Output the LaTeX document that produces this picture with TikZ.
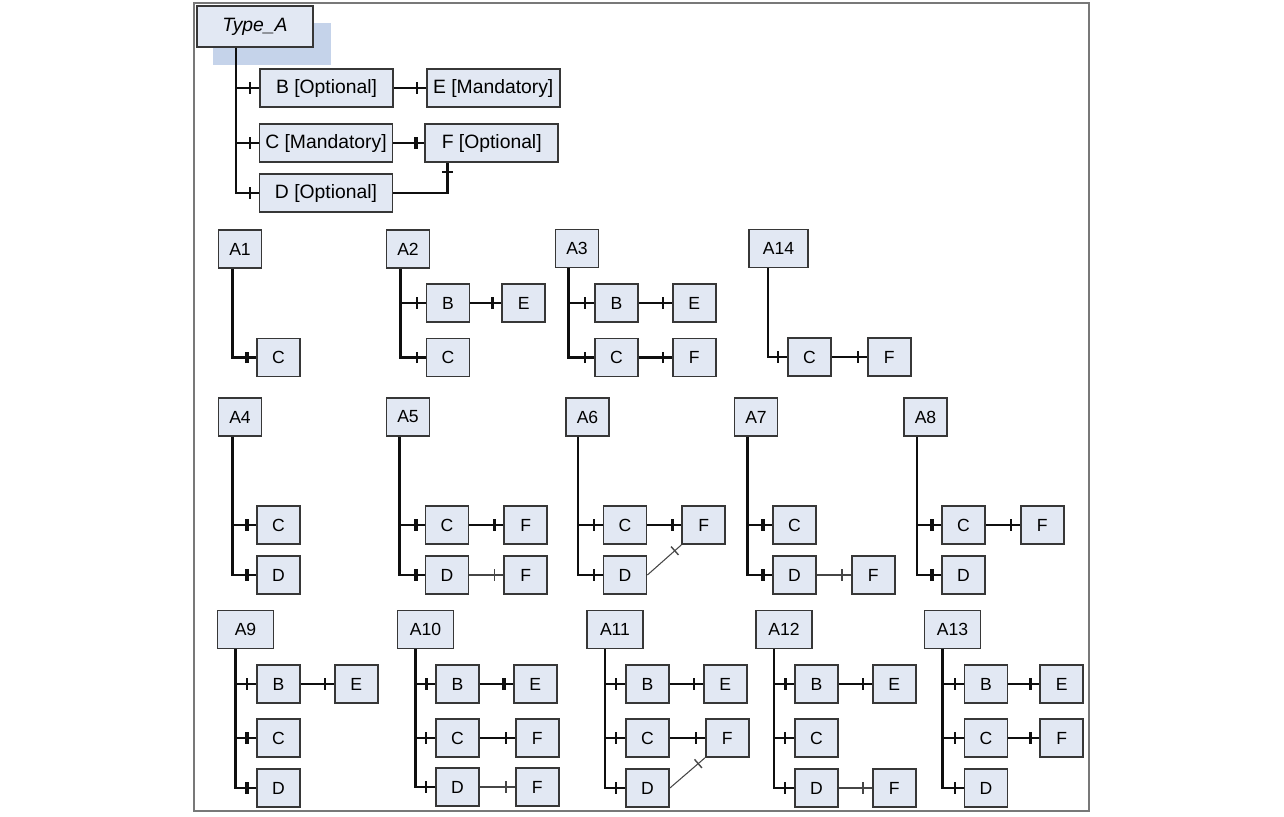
\documentclass[tikz,border=0pt]{standalone}
\usepackage{fontspec}
\setmainfont{Liberation Sans}
\usepackage{xcolor}
\usepackage{tikz}
\usetikzlibrary{positioning, decorations.markings}
\definecolor{boxbg}{RGB}{226,232,243}
\definecolor{border}{RGB}{55,55,55}
\definecolor{linecol}{RGB}{15,15,15}
\definecolor{thincol}{RGB}{70,70,70}
\definecolor{selbg}{RGB}{197,211,234}
\definecolor{framecol}{RGB}{120,120,120}
\tikzset{
    fieldbox/.style={rectangle, minimum width=0.86cm, minimum height=0.76cm, inner sep=1pt, text centered, draw=border, line width=1pt, fill=boxbg, font=\fontsize{10}{12}\selectfont},
    wideroot/.style={fieldbox, minimum width=1.12cm},
    topbox/.style={fieldbox, minimum width=2.66cm, font=\fontsize{11}{13}\selectfont},
    link/.style={line width=1.4pt, color=linecol},
    thinlink/.style={line width=0.6pt, color=thincol},
    endbar/.style={postaction={decorate, decoration={markings, mark=at position -5pt with {\draw[line width=#1] (0,-3.2pt) -- (0,3.2pt);}}}},
    endbar/.default=1.3pt
}

\begin{document}
\begin{tikzpicture}[x=0.02cm, y=-0.02cm]
    \useasboundingbox (0,0) rectangle (1284,816);
    \draw[framecol, line width=0.9pt] (194,3) rectangle (1089,811);

    % Type_A with its fields
    \fill[selbg] (213,23) rectangle (331,65);
    \node (typea) [fieldbox, minimum width=2.32cm, minimum height=0.82cm, font=\fontsize{11}{13}\selectfont\itshape] at (255,26.5) {Type\_A};
    \node (bopt) [topbox] at (326.5,88) {B [Optional]};
    \node (emand) [topbox, right=0.64cm of bopt] {E [Mandatory]};
    \node (cmand) [topbox] at (326,143) {C [Mandatory]};
    \node (fopt) [topbox, right=0.62cm of cmand] {F [Optional]};
    \node (dopt) [topbox] at (326,193) {D [Optional]};
    \draw[link, endbar] ([xshift=0.8cm]typea.south west) |- (bopt.west);
    \draw[link, endbar] ([xshift=0.8cm]typea.south west) |- (cmand.west);
    \draw[link, endbar] ([xshift=0.8cm]typea.south west) |- (dopt.west);
    \draw[link, endbar] (bopt) -- (emand);
    \draw[link, endbar=2.2pt] (cmand) -- (fopt);
    \draw[link, endbar] (dopt.east) -| ([xshift=0.46cm]fopt.south west);

    % Row 1: A1, A2, A3, A14
    \node (a1) [fieldbox] at (240,249) {A1};
    \node (a1c) [fieldbox] at (278.5,357.5) {C};
    \draw[link, endbar=2.2pt] ([xshift=0.3cm]a1.south west) |- (a1c.west);

    \node (a2) [fieldbox] at (408,249) {A2};
    \node (a2b) [fieldbox] at (448,303) {B};
    \node (a2e) [fieldbox, right=0.62cm of a2b] {E};
    \node (a2c) [fieldbox] at (448,357.5) {C};
    \draw[link, endbar] ([xshift=0.3cm]a2.south west) |- (a2b.west);
    \draw[link, endbar] ([xshift=0.3cm]a2.south west) |- (a2c.west);
    \draw[link, endbar] (a2b) -- (a2e);

    \node (a3) [fieldbox] at (577,248.5) {A3};
    \node (a3b) [fieldbox] at (616.5,303) {B};
    \node (a3e) [fieldbox, right=0.66cm of a3b] {E};
    \node (a3c) [fieldbox] at (616.5,357.5) {C};
    \node (a3f) [fieldbox, right=0.66cm of a3c] {F};
    \draw[link, endbar] ([xshift=0.28cm]a3.south west) |- (a3b.west);
    \draw[link, endbar] ([xshift=0.28cm]a3.south west) |- (a3c.west);
    \draw[link, endbar] (a3b) -- (a3e);
    \draw[link, endbar] (a3c) -- (a3f);

    \node (a14) [wideroot, minimum width=1.18cm] at (778.5,248.5) {A14};
    \node (a14c) [fieldbox] at (809.5,357) {C};
    \node (a14f) [fieldbox, right=0.7cm of a14c] {F};
    \draw[link, endbar] ([xshift=0.4cm]a14.south west) |- (a14c.west);
    \draw[link, endbar] (a14c) -- (a14f);

    % Row 2: A4 to A8
    \node (a4) [fieldbox] at (240,417) {A4};
    \node (a4c) [fieldbox] at (278.5,525) {C};
    \node (a4d) [fieldbox] at (278.5,575) {D};
    \draw[link, endbar=2.2pt] ([xshift=0.3cm]a4.south west) |- (a4c.west);
    \draw[link, endbar=2.2pt] ([xshift=0.3cm]a4.south west) |- (a4d.west);

    \node (a5) [fieldbox] at (408,417) {A5};
    \node (a5c) [fieldbox] at (447,525) {C};
    \node (a5f) [fieldbox, right=0.68cm of a5c] {F};
    \node (a5d) [fieldbox] at (447,575) {D};
    \node (a5g) [fieldbox, right=0.68cm of a5d] {F};
    \draw[link, endbar=2.2pt] ([xshift=0.28cm]a5.south west) |- (a5c.west);
    \draw[link, endbar=2.2pt] ([xshift=0.28cm]a5.south west) |- (a5d.west);
    \draw[link, endbar] (a5c) -- (a5f);
    \draw[thinlink, endbar=0.8pt] (a5d) -- (a5g);

    \node (a6) [fieldbox] at (587.5,417) {A6};
    \node (a6c) [fieldbox] at (625,525) {C};
    \node (a6f) [fieldbox, right=0.68cm of a6c] {F};
    \node (a6d) [fieldbox] at (625,575) {D};
    \draw[link, endbar] ([xshift=0.26cm]a6.south west) |- (a6c.west);
    \draw[link, endbar] ([xshift=0.26cm]a6.south west) |- (a6d.west);
    \draw[link, endbar] (a6c) -- (a6f);
    \draw[thinlink, endbar=0.8pt] (a6d.east) -- (a6f.south west);

    \node (a7) [fieldbox] at (756,417) {A7};
    \node (a7c) [fieldbox] at (794.5,525) {C};
    \node (a7d) [fieldbox] at (794.5,575) {D};
    \node (a7f) [fieldbox, right=0.68cm of a7d] {F};
    \draw[link, endbar=2.2pt] ([xshift=0.28cm]a7.south west) |- (a7c.west);
    \draw[link, endbar=2.2pt] ([xshift=0.28cm]a7.south west) |- (a7d.west);
    \draw[thinlink, endbar=0.8pt] (a7d) -- (a7f);

    \node (a8) [fieldbox] at (925.5,417) {A8};
    \node (a8c) [fieldbox] at (963.5,525) {C};
    \node (a8f) [fieldbox, right=0.68cm of a8c] {F};
    \node (a8d) [fieldbox] at (963.5,575) {D};
    \draw[link, endbar=2.2pt] ([xshift=0.28cm]a8.south west) |- (a8c.west);
    \draw[link, endbar=2.2pt] ([xshift=0.28cm]a8.south west) |- (a8d.west);
    \draw[link, endbar] (a8c) -- (a8f);

    % Row 3: A9 to A13
    \node (a9) [wideroot] at (245.5,629.5) {A9};
    \node (a9b) [fieldbox] at (278.5,684) {B};
    \node (a9e) [fieldbox, right=0.66cm of a9b] {E};
    \node (a9c) [fieldbox] at (278.5,738) {C};
    \node (a9d) [fieldbox] at (278.5,788) {D};
    \draw[link, endbar] ([xshift=0.38cm]a9.south west) |- (a9b.west);
    \draw[link, endbar=2.2pt] ([xshift=0.38cm]a9.south west) |- (a9c.west);
    \draw[link, endbar=2.2pt] ([xshift=0.38cm]a9.south west) |- (a9d.west);
    \draw[link, endbar] (a9b) -- (a9e);

    \node (a10) [wideroot] at (425.5,629.5) {A10};
    \node (a10b) [fieldbox] at (457.5,684) {B};
    \node (a10e) [fieldbox, right=0.66cm of a10b] {E};
    \node (a10c) [fieldbox] at (457.5,738) {C};
    \node (a10f) [fieldbox, right=0.7cm of a10c] {F};
    \node (a10d) [fieldbox] at (457.5,787) {D};
    \node (a10g) [fieldbox, right=0.7cm of a10d] {F};
    \draw[link, endbar=2pt] ([xshift=0.38cm]a10.south west) |- (a10b.west);
    \draw[link, endbar] ([xshift=0.38cm]a10.south west) |- (a10c.west);
    \draw[link, endbar] ([xshift=0.38cm]a10.south west) |- (a10d.west);
    \draw[link, endbar=2pt] (a10b) -- (a10e);
    \draw[link, endbar] (a10c) -- (a10f);
    \draw[thinlink, endbar=0.8pt] (a10d) -- (a10g);

    \node (a11) [wideroot] at (615,629.5) {A11};
    \node (a11b) [fieldbox] at (647.5,684) {B};
    \node (a11e) [fieldbox, right=0.66cm of a11b] {E};
    \node (a11c) [fieldbox] at (647.5,738) {C};
    \node (a11f) [fieldbox, right=0.7cm of a11c] {F};
    \node (a11d) [fieldbox] at (647.5,788) {D};
    \draw[link, endbar] ([xshift=0.38cm]a11.south west) |- (a11b.west);
    \draw[link, endbar] ([xshift=0.38cm]a11.south west) |- (a11c.west);
    \draw[link, endbar] ([xshift=0.38cm]a11.south west) |- (a11d.west);
    \draw[link, endbar] (a11b) -- (a11e);
    \draw[link, endbar] (a11c) -- (a11f);
    \draw[thinlink, endbar=0.8pt] (a11d.east) -- (a11f.south west);

    \node (a12) [wideroot] at (784,629.5) {A12};
    \node (a12b) [fieldbox] at (816.5,684) {B};
    \node (a12e) [fieldbox, right=0.66cm of a12b] {E};
    \node (a12c) [fieldbox] at (816.5,738) {C};
    \node (a12d) [fieldbox] at (816.5,788) {D};
    \node (a12f) [fieldbox, right=0.66cm of a12d] {F};
    \draw[link, endbar=2pt] ([xshift=0.38cm]a12.south west) |- (a12b.west);
    \draw[link, endbar] ([xshift=0.38cm]a12.south west) |- (a12c.west);
    \draw[link, endbar] ([xshift=0.38cm]a12.south west) |- (a12d.west);
    \draw[link, endbar] (a12b) -- (a12e);
    \draw[thinlink, endbar=0.8pt] (a12d) -- (a12f);

    \node (a13) [wideroot] at (952.5,629.5) {A13};
    \node (a13b) [fieldbox] at (986,684) {B};
    \node (a13e) [fieldbox, right=0.62cm of a13b] {E};
    \node (a13c) [fieldbox] at (986,738) {C};
    \node (a13f) [fieldbox, right=0.62cm of a13c] {F};
    \node (a13d) [fieldbox] at (986,788) {D};
    \draw[link, endbar] ([xshift=0.38cm]a13.south west) |- (a13b.west);
    \draw[link, endbar] ([xshift=0.38cm]a13.south west) |- (a13c.west);
    \draw[link, endbar] ([xshift=0.38cm]a13.south west) |- (a13d.west);
    \draw[link, endbar=2pt] (a13b) -- (a13e);
    \draw[link, endbar] (a13c) -- (a13f);
\end{tikzpicture}
\end{document}
